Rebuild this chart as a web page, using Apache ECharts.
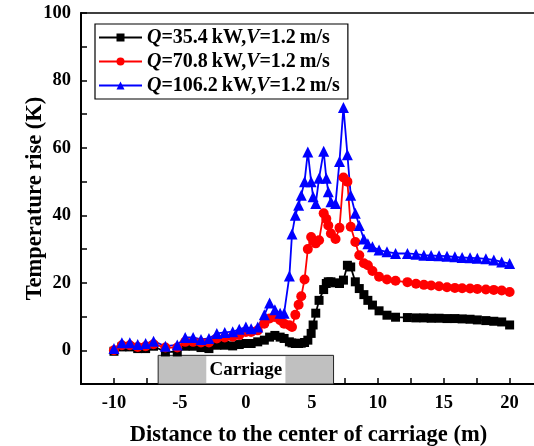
<!DOCTYPE html>
<html>
<head>
<meta charset="utf-8">
<script src="https://cdn.jsdelivr.net/npm/echarts@6/dist/echarts.min.js"></script>
<style>html,body{margin:0;padding:0;background:#fff;}#c{width:534px;height:446px;}</style>
</head>
<body>
<div id="c"></div>
<script>
// Shared x positions (m)
const xs = [-10, -9.4, -8.8, -8.2, -7.6, -7.0, -6.1, -5.2, -4.6, -4.0, -3.4, -2.8,
  -2.2, -1.6, -1.0, -0.5, 0, 0.4, 0.9, 1.4, 1.8, 2.2, 2.6, 2.9,
  3.3, 3.5, 3.75, 4.0, 4.2, 4.45, 4.7, 4.95, 5.1, 5.3, 5.55, 5.9,
  6.1, 6.25, 6.45, 6.8, 7.1, 7.4, 7.7, 7.95, 8.3, 8.6, 8.95, 9.25,
  9.6, 10.1, 10.7, 11.35, 12.25, 12.9, 13.5, 14.05, 14.65, 15.25, 15.85, 16.4,
  17.0, 17.55, 18.2, 18.8, 19.4, 20.0];

const q354 = [-0.3, 1.0, 1.0, 0.5, 0.5, 1.2, -0.5, -0.5, 1.2, 1.2, 0.8, 0.5,
  1.5, 1.5, 1.3, 1.7, 2.0, 2.0, 2.5, 3.0, 3.9, 4.4, 3.9, 3.5,
  2.5, 2.2, 2.0, 2.0, 2.1, 2.3, 3.0, 5.0, 7.5, 11.0, 14.8, 18.0,
  19.8, 20.3, 20.3, 20.0, 19.8, 20.8, 25.2, 24.7, 20.3, 18.3, 16.5, 14.8,
  13.4, 11.7, 10.4, 9.8, 9.7, 9.6, 9.6, 9.5, 9.5, 9.4, 9.4, 9.3,
  9.2, 9.0, 8.8, 8.6, 8.4, 7.5];

const q708 = [0.0, 1.5, 1.5, 1.0, 1.2, 1.8, 0.8, 0.8, 2.5, 2.5, 2.3, 2.3,
  3.5, 3.8, 4.0, 4.5, 5.4, 5.4, 5.9, 7.9, 9.4, 9.9, 8.9, 7.9,
  7.4, 6.9, 10.5, 13.5, 16.0, 21.0, 30.0, 33.6, 32.5, 31.7, 32.6, 40.6,
  39.0, 37.0, 34.6, 33.0, 36.3, 51.2, 50.0, 36.6, 32.1, 28.2, 25.8, 25.2,
  23.5, 21.8, 21.0, 20.6, 20.2, 19.7, 19.4, 19.2, 19.0, 18.7, 18.5, 18.4,
  18.3, 18.2, 18.0, 17.9, 17.7, 17.3];

const q1062 = [0.5, 2.2, 2.2, 1.7, 2.0, 2.7, 1.2, 1.6, 3.8, 3.8, 3.2, 3.5,
  5.0, 5.3, 5.5, 6.2, 6.9, 6.4, 6.9, 10.5, 14.0, 12.0, 11.0, 11.0,
  22.0, 34.5, 40.0, 43.0, 46.0, 50.0, 58.8, 50.0, 45.5, 43.5, 51.0, 59.0,
  51.0, 47.0, 44.0, 43.5, 56.0, 72.0, 58.0, 46.0, 40.6, 37.0, 33.0, 31.6,
  30.7, 29.7, 29.2, 28.7, 28.7, 28.5, 28.2, 28.1, 28.0, 27.9, 27.7, 27.5,
  27.4, 27.3, 27.1, 26.8, 26.2, 25.7];

const seriesNames = ['Q=35.4 kW,V=1.2 m/s', 'Q=70.8 kW,V=1.2 m/s', 'Q=106.2 kW,V=1.2 m/s'];
const qLabels = ['35.4', '70.8', '106.2'];
const xTicks = [-10, -5, 0, 5, 10, 15, 20];
const yTicks = [0, 20, 40, 60, 80, 100];
const carriageX = [-6.65, 6.65];
const carriageY = [-10, -1.5];
const carriageLabelX = [-3, 3];

const FONT = '"Liberation Serif", "Times New Roman", serif';
const pairs = ys => xs.map((x, i) => [x, ys[i]]);

const chart = echarts.init(document.getElementById('c'), null, {renderer: 'canvas'});
const mk = (name, data, color, symbol, size) => ({
  name, type: 'line', data: pairs(data), symbol, symbolSize: size,
  lineStyle: {color, width: 1.8}, itemStyle: {color}, color, z: 3
});
const s1 = mk(seriesNames[0], q354, '#000000', 'rect', 9);
s1.markArea = {
  silent: true,
  data: [
    [{xAxis: carriageX[0], yAxis: carriageY[0], itemStyle: {color: '#c0c0c0', borderColor: '#222', borderWidth: 1}},
     {xAxis: carriageX[1], yAxis: carriageY[1]}],
    [{xAxis: carriageLabelX[0], yAxis: carriageY[0] + 0.3, itemStyle: {color: '#ffffff', borderWidth: 0},
      label: {show: true, position: 'inside', formatter: 'Carriage', color: '#000', fontFamily: FONT, fontWeight: 'bold', fontSize: 19}},
     {xAxis: carriageLabelX[1], yAxis: carriageY[1] - 0.3}]
  ]
};
const s2 = mk(seriesNames[1], q708, '#ff0000', 'circle', 10);
const s3 = mk(seriesNames[2], q1062, '#0000ff', 'triangle', 11);

chart.setOption({
  animation: false,
  backgroundColor: '#fff',
  grid: {left: 81, right: -2, top: 13, bottom: 62, show: true, borderColor: '#000', borderWidth: 1.5,
         containLabel: false, outerBoundsMode: 'none'},
  legend: {
    orient: 'vertical', left: 95, top: 24,
    padding: [3, 8, 3, 3], itemGap: 3, itemWidth: 43, itemHeight: 10,
    borderColor: '#000', borderWidth: 1.2, backgroundColor: '#fff',
    data: seriesNames,
    formatter: name => {
      const i = seriesNames.indexOf(name);
      return '{i|Q}{n|=' + qLabels[i] + '\u2009kW,}{i|V}{n|=1.2\u2009m/s}';
    },
    textStyle: {
      lineHeight: 21,
      rich: {
        i: {fontFamily: FONT, fontStyle: 'italic', fontWeight: 'bold', fontSize: 20, color: '#000'},
        n: {fontFamily: FONT, fontWeight: 'bold', fontSize: 20, color: '#000'}
      }
    }
  },
  xAxis: {
    type: 'value', min: -12.5, max: 22, interval: 2.5,
    name: 'Distance to the center of carriage (m)', nameLocation: 'middle', nameGap: 40,
    nameMoveOverlap: false,
    nameTextStyle: {fontFamily: FONT, fontWeight: 'bold', fontSize: 22.5, color: '#000'},
    axisLine: {show: true, onZero: false, lineStyle: {color: '#000', width: 2}},
    axisTick: {show: true, inside: true, length: 6, lineStyle: {color: '#000', width: 1.5}},
    splitLine: {show: false},
    axisLabel: {
      margin: 10, color: '#000', fontFamily: FONT, fontWeight: 'bold', fontSize: 18.5,
      formatter: v => xTicks.indexOf(v) >= 0 ? String(v) : ''
    }
  },
  yAxis: {
    type: 'value', min: -10, max: 100, interval: 10,
    name: 'Temperature rise (K)', nameLocation: 'middle', nameGap: 34,
    nameMoveOverlap: false,
    nameTextStyle: {fontFamily: FONT, fontWeight: 'bold', fontSize: 22.5, color: '#000'},
    axisLine: {show: true, onZero: false, lineStyle: {color: '#000', width: 2}},
    axisTick: {show: true, inside: true, length: 6, lineStyle: {color: '#000', width: 1.5}},
    splitLine: {show: false},
    axisLabel: {
      margin: 10, color: '#000', fontFamily: FONT, fontWeight: 'bold', fontSize: 18.5,
      formatter: v => yTicks.indexOf(v) >= 0 ? String(v) : ''
    }
  },
  series: [s1, s2, s3]
});
</script>
</body>
</html>
